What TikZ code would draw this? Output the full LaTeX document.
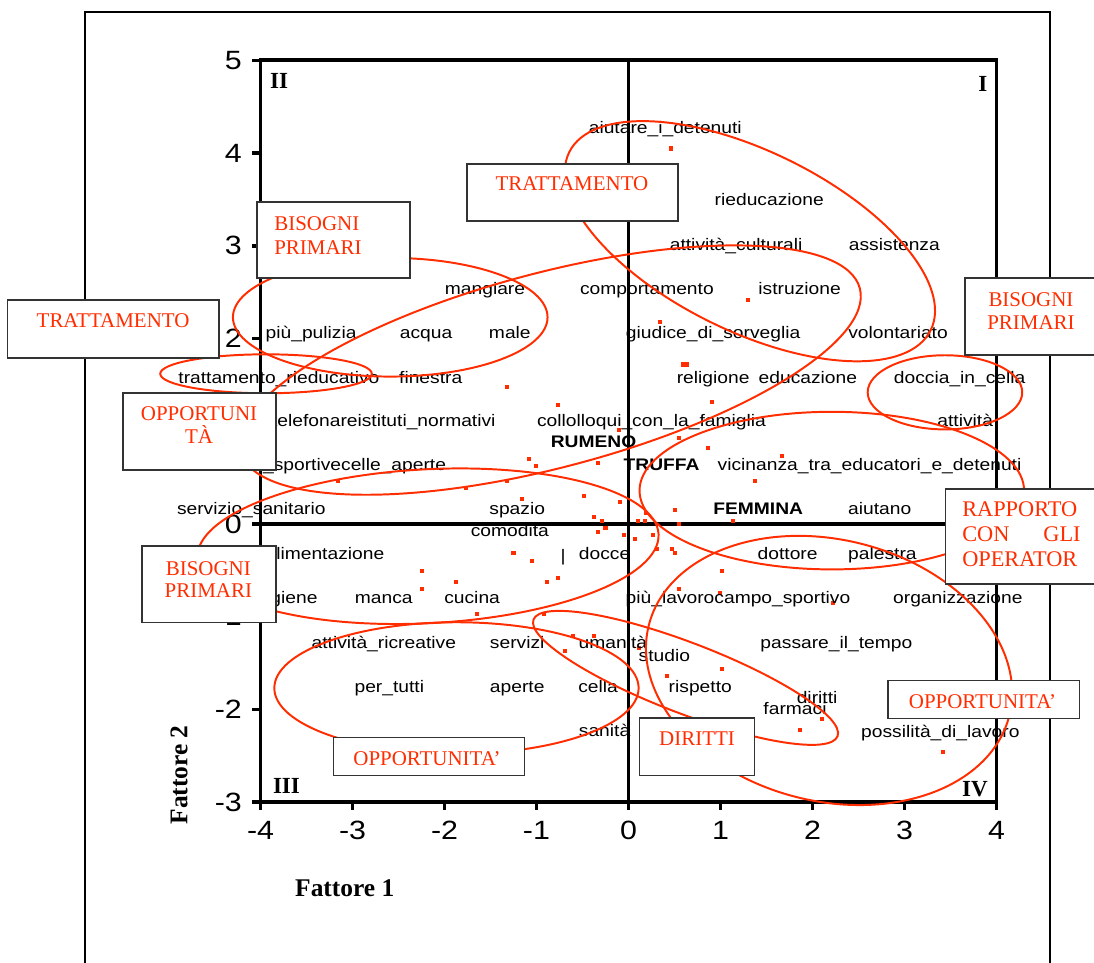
\documentclass[tikz,border=0pt]{standalone}
\usepackage{fontspec}
\setmainfont{Liberation Serif}
\newfontfamily\chartfont[FakeStretch=1.15]{Liberation Sans}
\definecolor{ovred}{RGB}{255,45,0}

\begin{document}
\begin{tikzpicture}[x=2.3cm, y=2.3178cm,
    grp/.style={draw=ovred, line width=1.4pt},
    box/.style={draw=black!80, line width=0.9pt, fill=white},
    word/.style={font=\chartfont\fontsize{11.9}{13}\selectfont, anchor=base, inner sep=0pt},
    bword/.style={word, font=\chartfont\bfseries\fontsize{11.9}{13}\selectfont},
    axnum/.style={font=\chartfont\fontsize{18.8}{20}\selectfont, inner sep=0pt},
    grouptag/.style={font=\fontsize{14.9}{17}\selectfont, text=ovred, anchor=base, inner sep=0pt},
    quadrant/.style={font=\bfseries\fontsize{16.4}{18}\selectfont, anchor=base, inner sep=0pt}]
    % Page and outer frame
    \useasboundingbox (-6.832,-4.735) rectangle (5.060,5.652);
    \draw[line width=1.4pt] (-5.909,-4.735) -- (-5.909,5.526) -- (4.580,5.526) -- (4.580,-4.735);
    % Draw the plot area and the two axes
    \draw[line width=2.8pt] (-4,-3) rectangle (4,5);
    \draw[line width=2.6pt] (-4,0) -- (4,0);
    \draw[line width=2.6pt] (0,-3) -- (0,5);
    \foreach \v in {-3,...,5} {
        \draw[line width=2.6pt] (-4,\v) -- (-4.09,\v);
        \node[axnum, anchor=east] (ynum\v) at (-4.20,\v) {\v};
    }
    \foreach \v in {-4,...,4} {
        \draw[line width=2.6pt] (\v,-3) -- (\v,-3.09);
        \node[axnum] (xnum\v) at (\v,-3.30) {\v};
    }
    % Draw the points
    \foreach \x/\y in {0.46/4.05, 1.30/2.42, 0.34/2.18, 0.59/1.72, 0.64/1.72, 0.91/1.32,
        -1.32/1.48, -0.77/1.28, -0.10/1.01, 0.55/0.93, 0.86/0.82, 1.67/0.73, -0.33/0.66,
        -1.08/0.70, -1.01/0.63, -3.16/0.46, -1.77/0.39, -1.32/0.46, -1.16/0.27, -0.48/0.30,
        -0.09/0.24, 1.38/0.46, 0.51/0.15, -0.38/0.08, -0.29/0.03, -0.25/-0.04, -0.33/-0.09,
        -0.05/-0.12, 0.07/-0.16, 0.10/0.03, 0.19/0.12, 0.18/0.03, 1.14/0.03, 0.27/-0.12,
        0.31/-0.27, 0.47/-0.27, 0.51/-0.31, 1.02/-0.51, -1.25/-0.31, -1.05/-0.40, -2.24/-0.51,
        -2.24/-0.70, -1.88/-0.63, -0.89/-0.63, -0.77/-0.58, 0.55/-0.70, 0.99/-0.74, 2.22/-0.85,
        -1.65/-0.97, -0.92/-0.97, -0.60/-1.21, -0.37/-1.21, -0.69/-1.37, 0.11/-1.34, 1.02/-1.56,
        0.42/-1.64, 2.10/-2.10, 1.86/-2.22, 3.42/-2.46, 0.55/0.00}
        \fill[ovred] (\x-0.022,\y-0.022) rectangle (\x+0.022,\y+0.022);
    % Word labels
    \foreach \x/\y/\t [count=\i] in {0.40/4.21/aiutare\_i\_detenuti, 1.53/3.43/rieducazione,
        1.17/2.95/attività\_culturali, 2.89/2.95/assistenza, -1.56/2.48/mangiare,
        0.20/2.48/comportamento, 1.86/2.48/istruzione, -3.45/2.00/più\_pulizia,
        -2.20/2.00/acqua, -1.29/2.00/male, 0.92/2.00/giudice\_di\_sorveglia,
        2.93/2.00/volontariato, -3.80/1.52/trattamento\_rieducativo, -2.15/1.52/finestra,
        0.92/1.52/religione, 1.95/1.52/educazione, 3.60/1.52/doccia\_in\_cella,
        -2.66/1.05/telefonareistituti\_normativi, 0.25/1.05/collolloqui\_con\_la\_famiglia,
        3.66/1.05/attività, -3.28/0.58/attività\_sportivecelle\_aperte,
        2.62/0.58/vicinanza\_tra\_educatori\_e\_detenuti, -4.10/0.10/servizio\_sanitario,
        -1.21/0.10/spazio, 2.73/0.10/aiutano, -1.29/-0.14/comodita, -3.30/-0.38/alimentazione,
        -0.71/-0.40/|, -0.26/-0.38/docce, 1.73/-0.38/dottore, 2.76/-0.38/palestra,
        -3.66/-0.86/igiene, -2.66/-0.86/manca, -1.70/-0.86/cucina,
        1.19/-0.86/più\_lavorocampo\_sportivo, 3.58/-0.86/organizzazione,
        -2.66/-1.34/attività\_ricreative, -1.21/-1.34/servizi, -0.17/-1.34/umanità,
        2.26/-1.34/passare\_il\_tempo, 0.39/-1.48/studio, -2.60/-1.82/per\_tutti,
        -1.21/-1.82/aperte, -0.33/-1.82/cella, 0.78/-1.82/rispetto, 2.05/-1.94/diritti,
        1.81/-2.05/farmaci, -0.26/-2.29/sanità, 3.39/-2.30/possilità\_di\_lavoro}
        \node[word] (lbl\i) at (\x,\y) {\t};
    \node[bword] (rumeno) at (-0.38,0.82) {RUMENO};
    \node[bword] (truffa) at (0.36,0.58) {TRUFFA};
    \node[bword] (femmina) at (1.41,0.10) {FEMMINA};
    % Quadrants and axis titles
    \node[quadrant] (qI) at (3.853,4.665) {I};
    \node[quadrant] (qII) at (-3.799,4.697) {II};
    \node[quadrant] (qIII) at (-3.718,-2.902) {III};
    \node[quadrant] (qIV) at (3.766,-2.939) {IV};
    \node[font=\bfseries\fontsize{18.1}{20}\selectfont, anchor=base, inner sep=0pt] (fatt1) at (-3.084,-4.020) {Fattore 1};
    \node[font=\bfseries\fontsize{18.1}{20}\selectfont, rotate=90, inner sep=0pt] (fatt2) at (-4.886,-2.707) {Fattore 2};
    % Groups
    \draw[grp] (-2.59,2.23) ellipse (1.71 and 0.64);
    \draw[grp] (-3.94,1.62) ellipse (1.15 and 0.21);
    \draw[grp, rotate around={-26.2:(1.32,3.05)}] (1.32,3.05) ellipse (2.19 and 0.97);
    \draw[grp, rotate around={14.8:(-0.85,1.66)}] (-0.85,1.66) ellipse (3.48 and 1.05);
    \draw[grp, rotate around={3:(-2.18,-0.24)}] (-2.18,-0.24) ellipse (2.51 and 0.83);
    \draw[grp] (-1.87,-1.77) ellipse (1.98 and 0.71);
    \draw[grp, rotate around={-21:(0.62,-1.66)}] (0.62,-1.66) ellipse (1.77 and 0.38);
    \draw[grp] (2.21,0.36) ellipse (2.09 and 0.85);
    \draw[grp, rotate around={-14:(2.18,-1.58)}] (2.18,-1.58) ellipse (2.02 and 1.41);
    \draw[grp] (3.44,1.42) ellipse (0.84 and 0.40);
    % Group names in boxes
    \filldraw[box] (-4.038,3.473) rectangle (-2.375,2.653);
    \node[grouptag, anchor=base west] (bpA1) at (-3.853,3.171) {BISOGNI};
    \node[grouptag, anchor=base west] (bpA2) at (-3.853,2.912) {PRIMARI};
    \filldraw[box] (-6.748,2.416) rectangle (-4.451,1.791);
    \node[grouptag] (trA) at (-5.603,2.114) {TRATTAMENTO};
    \filldraw[box] (-5.495,1.413) rectangle (-3.832,0.582);
    \node[grouptag] (opA1) at (-4.668,1.111) {OPPORTUNI};
    \node[grouptag] (opA2) at (-4.668,0.863) {TÀ};
    \filldraw[box] (-1.755,3.883) rectangle (0.538,3.268);
    \node[grouptag] (trB) at (-0.615,3.592) {TRATTAMENTO};
    \filldraw[box] (3.658,2.653) rectangle (5.2,1.823);
    \node[grouptag] (bpB1) at (4.375,2.351) {BISOGNI};
    \node[grouptag] (bpB2) at (4.375,2.093) {PRIMARI};
    \filldraw[box] (-5.288,-0.237) rectangle (-3.832,-1.065);
    \node[grouptag] (bpC1) at (-4.567,-0.553) {BISOGNI};
    \node[grouptag] (bpC2) at (-4.567,-0.795) {PRIMARI};
    \filldraw[box] (3.448,0.378) rectangle (5.2,-0.647);
    \node[grouptag, font=\fontsize{15.9}{18}\selectfont, anchor=base west] (rap1) at (3.625,0.076) {RAPPORTO};
    \node[grouptag, font=\fontsize{15.9}{18}\selectfont, anchor=base west] (rap2) at (3.625,-0.194) {CON};
    \node[grouptag, font=\fontsize{15.9}{18}\selectfont, anchor=base east] (rap3) at (4.918,-0.194) {GLI};
    \node[grouptag, font=\fontsize{15.9}{18}\selectfont, anchor=base west] (rap4) at (3.625,-0.464) {OPERATOR};
    \filldraw[box] (-3.208,-2.305) rectangle (-1.127,-2.715);
    \node[grouptag] (opB) at (-2.190,-2.603) {OPPORTUNITA’};
    \filldraw[box] (0.121,-2.093) rectangle (1.370,-2.715);
    \node[grouptag] (dir) at (0.745,-2.387) {DIRITTI};
    \filldraw[box] (2.821,-1.690) rectangle (4.903,-2.096);
    \node[grouptag] (opC) at (3.848,-1.985) {OPPORTUNITA’};
\end{tikzpicture}
\end{document}
